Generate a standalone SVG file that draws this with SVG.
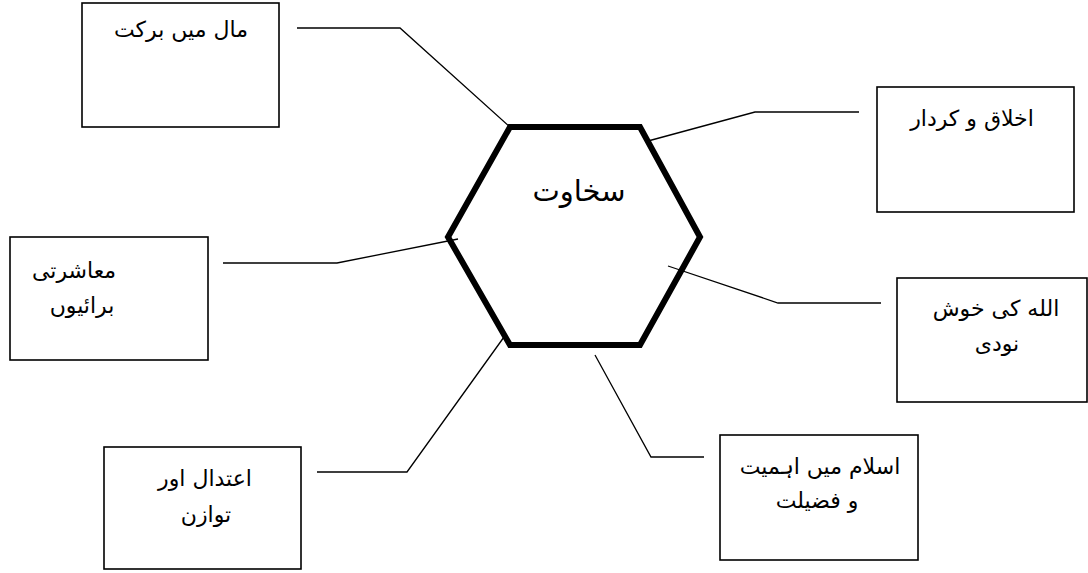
<svg xmlns="http://www.w3.org/2000/svg" width="1088" height="573" viewBox="0 0 1088 573">
<style>
.box{fill:#fff;stroke:#000;stroke-width:1.6}
.lbl{font-family:"DejaVu Sans","Liberation Sans",sans-serif;font-size:22px;fill:#000;text-anchor:middle}
.conn{fill:none;stroke:#000;stroke-width:1.3}
.hex{fill:#fff;stroke:#000;stroke-width:6;stroke-linejoin:miter}
</style>
<rect width="1088" height="573" fill="#fff"/>
<g id="connectors">
<polyline class="conn" points="297,28 400,28 510,127"/>
<polyline class="conn" points="859,112 755,112 648,141"/>
<polyline class="conn" points="223,263 337,263 458,239"/>
<polyline class="conn" points="881,303 778,303 668,266"/>
<polyline class="conn" points="317,472 407,472 504,337"/>
<polyline class="conn" points="704,457 651,457 595,355"/>
</g>
<g id="center">
<polygon class="hex" points="510,127 640,127 700,237 640,345 510,345 448,237"/>
<text class="lbl" x="579" y="201" style="font-size:29px">سخاوت</text>
</g>
<polyline class="conn" points="458,239 448,241"/>
<polyline class="conn" points="668,266 680,270"/>
<g id="n1">
<rect class="box" x="82" y="3" width="197" height="124"/>
<text class="lbl" x="181" y="37">مال میں برکت</text>
</g>
<g id="n2">
<rect class="box" x="877" y="87" width="197" height="125"/>
<text class="lbl" x="972" y="126">اخلاق و کردار</text>
</g>
<g id="n3">
<rect class="box" x="10" y="237" width="198" height="123"/>
<text class="lbl" x="74" y="278">معاشرتی</text>
<text class="lbl" x="82" y="313">برائیوں</text>
</g>
<g id="n4">
<rect class="box" x="897" y="278" width="190" height="124"/>
<text class="lbl" x="996" y="316">الله کی خوش</text>
<text class="lbl" x="997" y="351">نودی</text>
</g>
<g id="n5">
<rect class="box" x="104" y="447" width="197" height="122"/>
<text class="lbl" x="205" y="486">اعتدال اور</text>
<text class="lbl" x="206" y="522">توازن</text>
</g>
<g id="n6">
<rect class="box" x="720" y="435" width="198" height="125"/>
<text class="lbl" x="820" y="474">اسلام میں اہمیت</text>
<text class="lbl" x="817" y="508">و فضیلت</text>
</g>
</svg>
